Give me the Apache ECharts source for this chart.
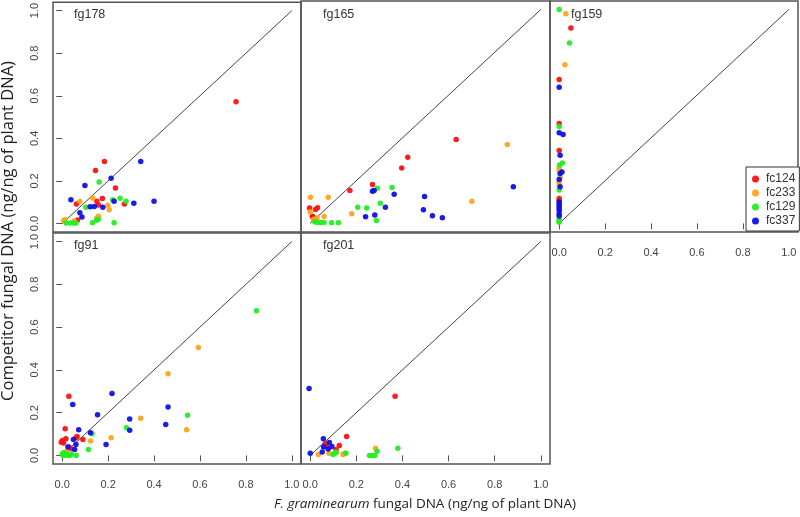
<!DOCTYPE html>
<html>
<head>
<meta charset="utf-8">
<script src="https://cdn.jsdelivr.net/npm/echarts@6/dist/echarts.min.js"></script>
<style>html,body{margin:0;padding:0;background:#fff}#c{width:800px;height:517px}</style>
</head>
<body>
<div id="c"></div>
<script>
// ---- data ----
const panelNames = ['fg178', 'fg165', 'fg159', 'fg91', 'fg201'];
const strainNames = ['fc124', 'fc233', 'fc129', 'fc337'];
const strainColors = ['#ff1010', '#ffa51a', '#22ee22', '#1010e6'];
const tickValues = [0, 0.2, 0.4, 0.6, 0.8, 1.0];
const identityLine = [[0, 0], [1, 1]];

// fg178
const fg178_fc124 = [[0.757,0.572],[0.184,0.291],[0.145,0.249],[0.232,0.167],[0.062,0.092],[0.151,0.104],[0.158,0.087],[0.175,0.117],[0.271,0.092],[0.067,0.016]];
const fg178_fc233 = [[0.077,0.103],[0.133,0.12],[0.199,0.086],[0.205,0.065],[0.158,0.034],[0.15,0.025],[0.052,0.012],[0.006,0.013],[0.012,0.018]];
const fg178_fc129 = [[0.161,0.195],[0.103,0.076],[0.22,0.112],[0.252,0.118],[0.278,0.104],[0.157,0.02],[0.15,0.015],[0.132,0.003],[0.226,0.003],[0.017,0.002],[0.035,0.002],[0.049,0.002],[0.06,0.002]];
const fg178_fc337 = [[0.342,0.291],[0.099,0.178],[0.213,0.212],[0.038,0.112],[0.122,0.079],[0.14,0.08],[0.177,0.076],[0.226,0.104],[0.312,0.095],[0.4,0.104],[0.077,0.05],[0.086,0.03]];

// fg165
const fg165_fc124 = [[0.633,0.393],[0.423,0.31],[0.397,0.259],[0.27,0.182],[0.172,0.154],[-0.003,0.072],[0.023,0.065],[0.032,0.073],[0.009,0.034],[0.015,0.02],[0.012,0.03]];
const fg165_fc233 = [[0.855,0.369],[0.701,0.104],[0.001,0.123],[0.078,0.123],[0.18,0.045],[0.06,0.033],[0.0,0.053],[0.015,0.02],[0.025,0.015],[0.03,0.025],[0.02,0.01]];
const fg165_fc129 = [[0.291,0.164],[0.355,0.168],[0.304,0.095],[0.206,0.076],[0.245,0.072],[0.287,0.014],[0.03,0.005],[0.045,0.005],[0.06,0.005],[0.093,0.003],[0.122,0.003],[0.02,0.008]];
const fg165_fc337 = [[0.881,0.171],[0.27,0.15],[0.277,0.154],[0.364,0.136],[0.326,0.076],[0.24,0.031],[0.28,0.04],[0.496,0.126],[0.491,0.064],[0.53,0.036],[0.573,0.027]];

// fg159
const fg159_fc124 = [[0.051,0.914],[0,0.673],[0,0.467],[0,0.341],[0,0.117],[0,0.107]];
const fg159_fc233 = [[0.029,0.98],[0.025,0.742],[0,0.26],[0,0.249],[0.004,0.215],[0,0.193],[0,0.181]];
const fg159_fc129 = [[0,1.0],[0.045,0.844],[0,0.453],[0.014,0.283],[0.002,0.273],[0,0.156],[0,0.02],[0,0.006],[0,0.012]];
const fg159_fc337 = [[0,0.637],[0,0.424],[0.017,0.416],[0.004,0.319],[0.012,0.24],[0.004,0.234],[0,0.206],[0.004,0.171],[0,0.1],[0,0.09],[0,0.08],[0,0.07],[0,0.06],[0,0.045],[0,0.035]];

// fg91
const fg91_fc124 = [[0.029,0.277],[0.013,0.125],[0.065,0.089],[0.06,0.083],[0.09,0.075],[0.001,0.07],[-0.004,0.062],[0.006,0.058],[0.016,0.078],[0.039,0.031],[0.03,0.04]];
const fg91_fc233 = [[0.593,0.505],[0.461,0.382],[0.342,0.174],[0.542,0.12],[0.213,0.083],[0.123,0.067],[0.02,0.02],[0.005,0.01],[0.01,0.015]];
const fg91_fc129 = [[0.846,0.676],[0.546,0.188],[0.28,0.129],[0.13,0.101],[0.114,0.028],[0.061,0.0],[0.0,0.005],[0.01,0.0],[0.02,0.003],[0.03,0.0],[0.04,0.005],[0.005,0.012],[0.015,0.008],[0.025,0.002]];
const fg91_fc337 = [[0.217,0.29],[0.046,0.238],[0.461,0.226],[0.154,0.19],[0.294,0.17],[0.451,0.145],[0.294,0.118],[0.072,0.12],[0.123,0.106],[0.049,0.075],[0.191,0.051],[0.06,0.051],[0.025,0.039],[0.054,0.028]];

// fg201
const fg201_fc124 = [[0.368,0.277],[0.158,0.089],[0.065,0.055],[0.07,0.042],[0.126,0.047],[0.112,0.028]];
const fg201_fc233 = [[0.283,0.034],[0.035,0.005],[0.081,0.01],[0.142,0.005],[0.149,0.01]];
const fg201_fc129 = [[0.099,0.005],[0.106,0.01],[0.113,0.015],[0.155,0.01],[0.29,0.02],[0.257,0],[0.268,0],[0.28,0],[0.38,0.034]];
const fg201_fc337 = [[-0.005,0.313],[0.057,0.078],[0.083,0.061],[0.058,0.039],[0.094,0.042],[0.078,0.03],[0.052,0.016],[0,0.01]];

const panelData = [
  [fg178_fc124, fg178_fc233, fg178_fc129, fg178_fc337],
  [fg165_fc124, fg165_fc233, fg165_fc129, fg165_fc337],
  [fg159_fc124, fg159_fc233, fg159_fc129, fg159_fc337],
  [fg91_fc124, fg91_fc233, fg91_fc129, fg91_fc337],
  [fg201_fc124, fg201_fc233, fg201_fc129, fg201_fc337]
];

// ---- layout ----
const grids = [
  {left: 53, top: 1, width: 248, height: 231},
  {left: 301, top: 1, width: 249, height: 231},
  {left: 550, top: 1, width: 248, height: 231},
  {left: 53, top: 233, width: 248, height: 231},
  {left: 301, top: 233, width: 249, height: 231}
];
const showX = [false, false, true, true, true];
const showY = [true, false, false, true, false];
const labelPos = [[74, 15], [323, 15], [571, 15], [74, 246], [323, 246]];

const tickColor = '#555';
const labelFont = {fontFamily: 'Liberation Sans, Arial, sans-serif', fontSize: 11, color: '#444'};

const chart = echarts.init(document.getElementById('c'), null, {renderer: 'canvas'});

const xAxes = grids.map((g, i) => ({
  gridIndex: i, type: 'value', min: -0.04, max: 1.04,
  axisLine: {show: false},
  splitLine: {show: false},
  axisTick: {show: showX[i], length: 6, customValues: tickValues, lineStyle: {color: tickColor, width: 1}},
  axisLabel: Object.assign({show: showX[i], customValues: tickValues, margin: 15,
    formatter: v => v.toFixed(1)}, labelFont)
}));
const yAxes = grids.map((g, i) => ({
  gridIndex: i, type: 'value', min: -0.04, max: 1.04,
  axisLine: {show: false},
  splitLine: {show: false},
  axisTick: {show: showY[i], length: 6, customValues: tickValues, lineStyle: {color: tickColor, width: 1}},
  axisLabel: Object.assign({show: showY[i], customValues: tickValues, margin: 13, rotate: 90,
    formatter: v => v.toFixed(1)}, labelFont)
}));

const series = [];
panelData.forEach((sets, p) => {
  series.push({
    type: 'line', xAxisIndex: p, yAxisIndex: p, data: identityLine,
    showSymbol: false, symbol: 'none', silent: true,
    lineStyle: {color: '#444', width: 1}, z: 1
  });
  sets.forEach((d, s) => {
    series.push({
      name: strainNames[s], type: 'scatter', xAxisIndex: p, yAxisIndex: p,
      data: d, symbolSize: 5.5, itemStyle: {color: strainColors[s], opacity: 0.95}, z: 2
    });
  });
});

const graphics = panelNames.map((n, i) => ({
  type: 'text', left: labelPos[i][0], top: labelPos[i][1] - 7,
  style: {text: n, font: '12.5px Liberation Sans, Arial, sans-serif', fill: '#333'}
}));
graphics.push({
  type: 'text', x: 8, y: 231, rotation: Math.PI / 2,
  style: {text: 'Competitor fungal DNA (ng/ng of plant DNA)', font: '16.5px Open Sans, sans-serif',
    fill: '#222', align: 'center', verticalAlign: 'middle'}
});
graphics.push({
  type: 'text', x: 425, y: 504,
  style: {
    text: '{i|F. graminearum} fungal DNA (ng/ng of plant DNA)',
    font: '13.5px Open Sans, sans-serif', fill: '#222', align: 'center', verticalAlign: 'middle',
    rich: {i: {fontStyle: 'italic', fontFamily: 'Open Sans, sans-serif', fontSize: 13.5, fill: '#222'}}
  }
});

chart.setOption({
  animation: false,
  backgroundColor: '#fff',
  grid: grids.map(g => Object.assign({show: true, borderColor: '#555', borderWidth: 1.5, backgroundColor: 'transparent'}, g)),
  xAxis: xAxes,
  yAxis: yAxes,
  legend: {
    data: strainNames.map((n, i) => ({name: n, icon: 'circle', itemStyle: {color: strainColors[i]}})),
    orient: 'vertical', left: 746, top: 167, width: 51,
    padding: [6, 4, 4, 6], itemGap: 2, itemWidth: 7, itemHeight: 7,
    borderColor: '#333', borderWidth: 1, backgroundColor: '#fff',
    textStyle: {fontFamily: 'Liberation Sans, Arial, sans-serif', fontSize: 12, color: '#333', padding: [0,0,0,2]},
    selectedMode: false
  },
  graphic: graphics,
  series: series
});
</script>
</body>
</html>
